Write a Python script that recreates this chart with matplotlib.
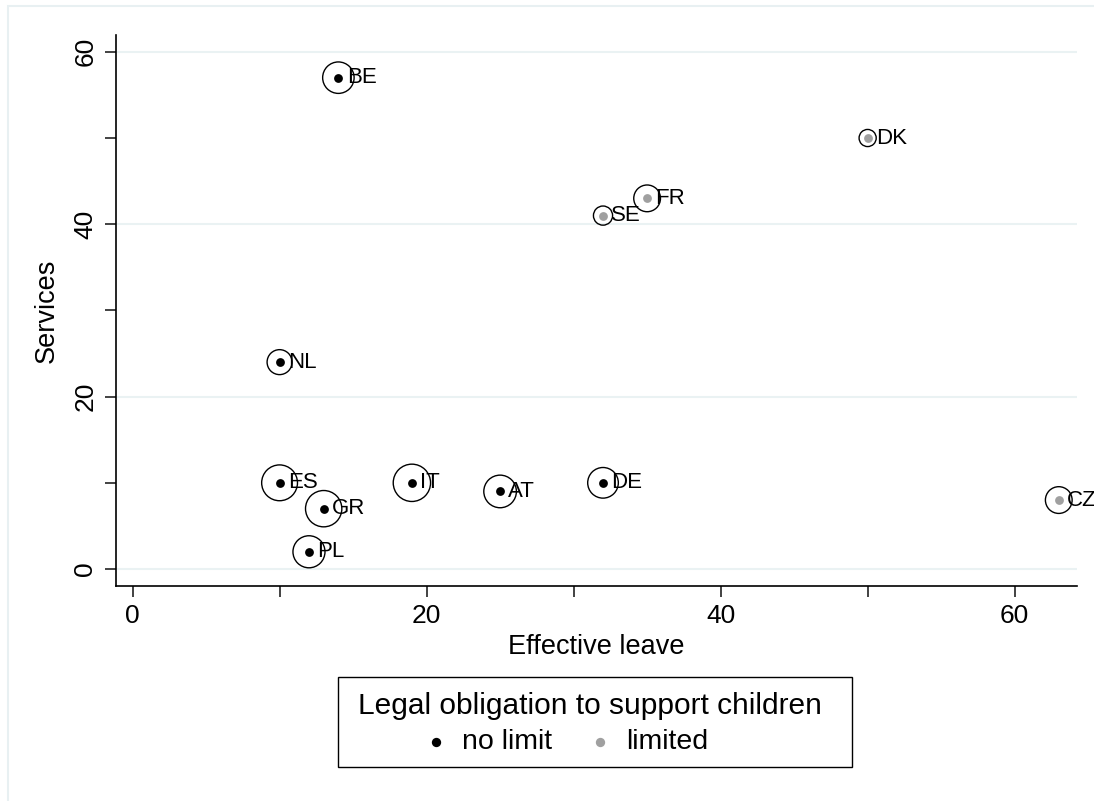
import matplotlib.pyplot as plt
from matplotlib.patches import Rectangle

plt.rcParams['font.family'] = ['Liberation Sans', 'DejaVu Sans']

countries = ["BE", "DK", "FR", "SE", "NL", "ES", "IT", "AT", "DE", "GR", "PL", "CZ"]
leave = [14, 50, 35, 32, 10, 10, 19, 25, 32, 13, 12, 63]
services = [57, 50, 43, 41, 24, 10, 10, 9, 10, 7, 2, 8]
limited = [0, 1, 1, 1, 0, 0, 0, 0, 0, 0, 0, 1]
weight = [270, 80, 195, 100, 170, 350, 380, 290, 256, 360, 280, 195]

fig = plt.figure(figsize=(10.94, 8.01), dpi=100)
fig.patches.append(Rectangle((8 / 1094, -0.1), 1.2, 1.1 - 6 / 801, transform=fig.transFigure,
                             fill=False, edgecolor="#e8f0f2", linewidth=1.5))

ax = fig.add_axes([115.5 / 1094, 1 - 586 / 801, (1077 - 115.5) / 1094, (586 - 35) / 801])
ax.set_xlim(-1.16, 64.24)
ax.set_ylim(-1.97, 61.95)

for yv in [0, 20, 40, 60]:
    ax.axhline(yv, color="#eaf2f3", linewidth=1.5, zorder=0)

# weighted hollow circles
ax.scatter(leave, services, s=[w * 1.9 for w in weight], facecolors="none",
           edgecolors="black", linewidths=1.0, zorder=2)

col_nl = "black"
col_lim = "#a0a0a0"
for i in range(len(countries)):
    c = col_lim if limited[i] else col_nl
    ax.scatter(leave[i], services[i], s=40, color=c, zorder=3, linewidths=0)
    ax.annotate(countries[i], (leave[i], services[i]), xytext=(6, 0), textcoords="offset points",
                va="center", ha="left", fontsize=16, zorder=4)

ax.set_xticks([0, 10, 20, 30, 40, 50, 60])
ax.set_xticklabels(["0", "", "20", "", "40", "", "60"])
ax.set_yticks([0, 10, 20, 30, 40, 50, 60])
ax.set_yticklabels(["0", "", "20", "", "40", "", "60"], rotation=90, va="center")
ax.tick_params(labelsize=19, length=8, width=1.2, pad=5, color="#222222")
ax.set_xlabel("Effective leave", fontsize=19.5, labelpad=4)
ax.set_ylabel("Services", fontsize=19.5, labelpad=10)
for s in ["top", "right"]:
    ax.spines[s].set_visible(False)
for s in ["left", "bottom"]:
    ax.spines[s].set_linewidth(1.2)

# legend box
fig.patches.append(Rectangle((338 / 1094, 1 - 767 / 801), 514 / 1094, 90 / 801,
                             transform=fig.transFigure, fill=False,
                             edgecolor="black", linewidth=1.0))
fig.text(590 / 1094, 1 - 706 / 801, "Legal obligation to support children",
         fontsize=21.5, ha="center", va="center")
h1 = ax.scatter([], [], s=45, color=col_nl, linewidths=0)
h2 = ax.scatter([], [], s=45, color=col_lim, linewidths=0)
leg = fig.legend([h1, h2], ["no limit", "limited"], ncol=2, loc="center",
                 bbox_to_anchor=(565 / 1094, 1 - 742 / 801),
                 fontsize=20.5, frameon=False, handlelength=1.0,
                 handletextpad=0.4, columnspacing=1.2, borderpad=0.1)

plt.savefig("out.png", dpi=100)
